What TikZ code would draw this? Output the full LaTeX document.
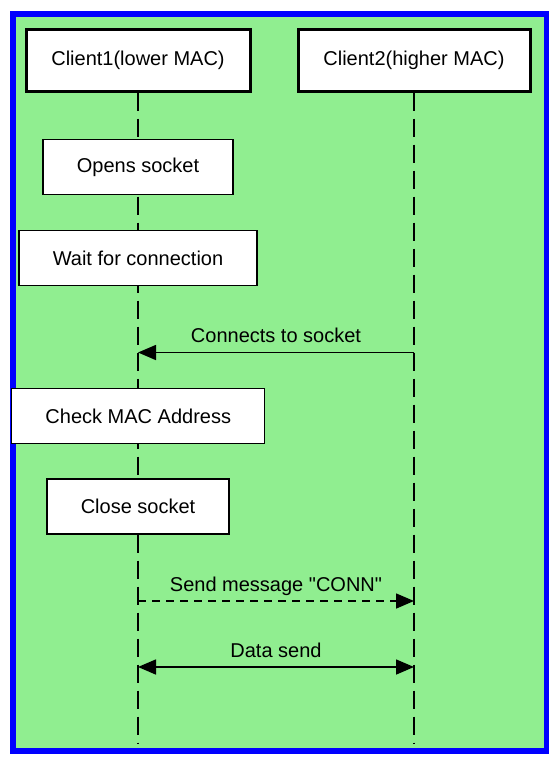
\documentclass[tikz,border=0pt]{standalone}
\usepackage{fontspec}
\setmainfont{Liberation Sans}[Ligatures=TeXOff]
\usetikzlibrary{arrows.meta}
\definecolor{framegreen}{RGB}{144,238,144}
\definecolor{frameblue}{RGB}{0,0,255}
\begin{document}
\begin{tikzpicture}[x=1pt,y=-1pt]
\tikzset{edge/.style = {line width=1.6pt,-{Triangle[length=18pt,width=15pt]}}}
\tikzset{both/.style = {line width=1.6pt,{Triangle[length=18pt,width=15pt]}-{Triangle[length=18pt,width=15pt]}}}
\tikzset{actor/.style = {draw,fill=white,line width=3pt,minimum height=62pt,inner sep=0pt}}
\tikzset{stepbox/.style = {draw,fill=white,line width=1.2pt,minimum height=55pt,inner sep=0pt}}
\tikzset{lifeline/.style = {line width=1.6pt,dash pattern=on 18pt off 8pt}}
\tikzset{msg/.style = {inner sep=0pt,text height=14pt,text depth=4pt}}
\tikzstyle{every node}=[font=\fontsize{20}{23}\selectfont]
\useasboundingbox (0,0) rectangle (554,763);
\draw [frameblue,fill=framegreen,line width=5.5pt] (12.8,13.8) rectangle (546.3,751);
\node [actor,minimum width=224pt] at (138,60)(C1) {Client1(lower MAC)};
\node [actor,minimum width=232pt] at (414,60)(C2) {Client2(higher MAC)};
\coordinate (C1end) at (138,743);
\coordinate (C2end) at (414,743);
\draw [lifeline] (C1.south) -- (C1end);
\draw [lifeline] (C2.south) -- (C2end);
\node [stepbox,minimum width=190pt] at (138,167)(S1) {Opens socket};
\node [stepbox,minimum width=238pt] at (138,258)(S2) {Wait for connection};
\node [stepbox,minimum width=253pt] at (138.3,416)(S3) {Check MAC Address};
\node [stepbox,minimum width=182pt] at (138,506.5)(S4) {Close socket};
\coordinate (A1) at (414,352.5);
\coordinate (B1) at (138,352.5);
\coordinate (A2) at (138,601);
\coordinate (B2) at (414,601);
\coordinate (A3) at (138,667);
\coordinate (B3) at (414,667);
\draw [edge] (A1) -- node [msg,above=5pt](M1) {Connects to socket} (B1);
\draw [edge,dash pattern=on 8pt off 6pt] (A2) -- node [msg,above=5pt](M2) {Send message "CONN"} (B2);
\draw [both] (A3) -- node [msg,above=5pt](M3) {Data send} (B3);
\end{tikzpicture}
\end{document}
